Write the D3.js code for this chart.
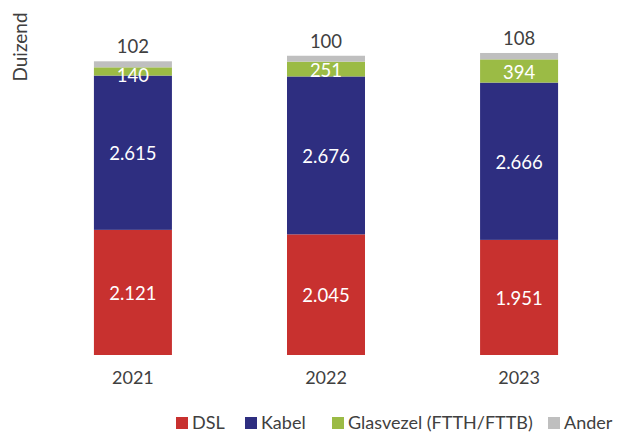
<!DOCTYPE html>
<html>
<head>
<meta charset="utf-8">
<script src="https://cdn.jsdelivr.net/npm/d3@7"></script>
<style>
  body { margin: 0; background: #fff; }
  svg { font-family: Lato, "Open Sans", sans-serif; }
</style>
</head>
<body>
<svg width="624" height="433"></svg>
<script>
// gegevens (duizend aansluitingen)
var jaren = ["2021", "2022", "2023"];
var reeksen = ["DSL", "Kabel", "Glasvezel (FTTH/FTTB)", "Ander"];
var dsl = [2121, 2045, 1951];
var kabel = [2615, 2676, 2666];
var glasvezel = [140, 251, 394];
var ander = [102, 100, 108];
var kleuren = ["#c8312f", "#2e2e80", "#9bbb45", "#bfbfbf"];

var svg = d3.select("svg");
var textColor = "#404040";

var data = jaren.map(function(j, i) {
  return { jaar: j, "DSL": dsl[i], "Kabel": kabel[i], "Glasvezel (FTTH/FTTB)": glasvezel[i], "Ander": ander[i] };
});

var stack = d3.stack().keys(reeksen);
var series = stack(data);

var x = d3.scaleBand()
  .domain(jaren)
  .range([36, 616])
  .paddingInner(0.596)
  .paddingOuter(0.3);

var y = d3.scaleLinear()
  .domain([0, 6000])
  .range([355, 1]);

var color = d3.scaleOrdinal().domain(reeksen).range(kleuren);

var fmt = function(v) { return d3.format(",")(v).replace(/,/g, "."); };

/* staven */
var groups = svg.append("g").selectAll("g")
  .data(series)
  .enter().append("g")
    .attr("fill", function(d) { return color(d.key); });

groups.selectAll("rect")
  .data(function(d) { return d; })
  .enter().append("rect")
    .attr("x", function(d) { return x(d.data.jaar); })
    .attr("y", function(d) { return y(d[1]); })
    .attr("width", x.bandwidth())
    .attr("height", function(d) { return y(d[0]) - y(d[1]); });

/* waardelabels */
series.forEach(function(s) {
  var binnen = s.key !== "Ander";
  svg.append("g").selectAll("text")
    .data(s)
    .enter().append("text")
      .attr("x", function(d) { return x(d.data.jaar) + x.bandwidth() / 2; })
      .attr("y", function(d) {
        if (!binnen) return y(d[1]) - 8;
        var h = y(d[0]) - y(d[1]);
        // klein segment: label iets lager, zoals in Excel
        return (y(d[0]) + y(d[1])) / 2 + (h < 12 ? 4 : 1);
      })
      .attr("dy", binnen ? "0.36em" : "0")
      .attr("text-anchor", "middle")
      .attr("font-size", 18.5)
      .attr("fill", binnen ? "#ffffff" : textColor)
      .text(function(d) { return fmt(d.data[s.key]); });
});

/* x-as labels */
var xAxis = svg.append("g")
  .attr("transform", "translate(0,355)")
  .call(d3.axisBottom(x).tickSize(0).tickPadding(16));
xAxis.select(".domain").remove();
xAxis.selectAll("text")
  .attr("font-family", "Lato, 'Open Sans', sans-serif")
  .attr("font-size", 18)
  .attr("fill", textColor);

/* as titel */
svg.append("text")
  .attr("transform", "translate(27,47) rotate(-90)")
  .attr("text-anchor", "middle")
  .attr("font-size", 19)
  .attr("fill", textColor)
  .text("Duizend");

/* legenda */
var legendX = [176, 245, 332, 548];
var legend = svg.append("g").selectAll("g")
  .data(reeksen)
  .enter().append("g")
    .attr("transform", function(d, i) { return "translate(" + legendX[i] + ",423)"; });

legend.append("rect")
  .attr("x", 0)
  .attr("y", -6)
  .attr("width", 12)
  .attr("height", 12)
  .attr("fill", function(d) { return color(d); });

legend.append("text")
  .attr("x", 16)
  .attr("dy", "0.36em")
  .attr("font-size", 18)
  .attr("fill", textColor)
  .text(function(d) { return d; });
</script>
</body>
</html>
